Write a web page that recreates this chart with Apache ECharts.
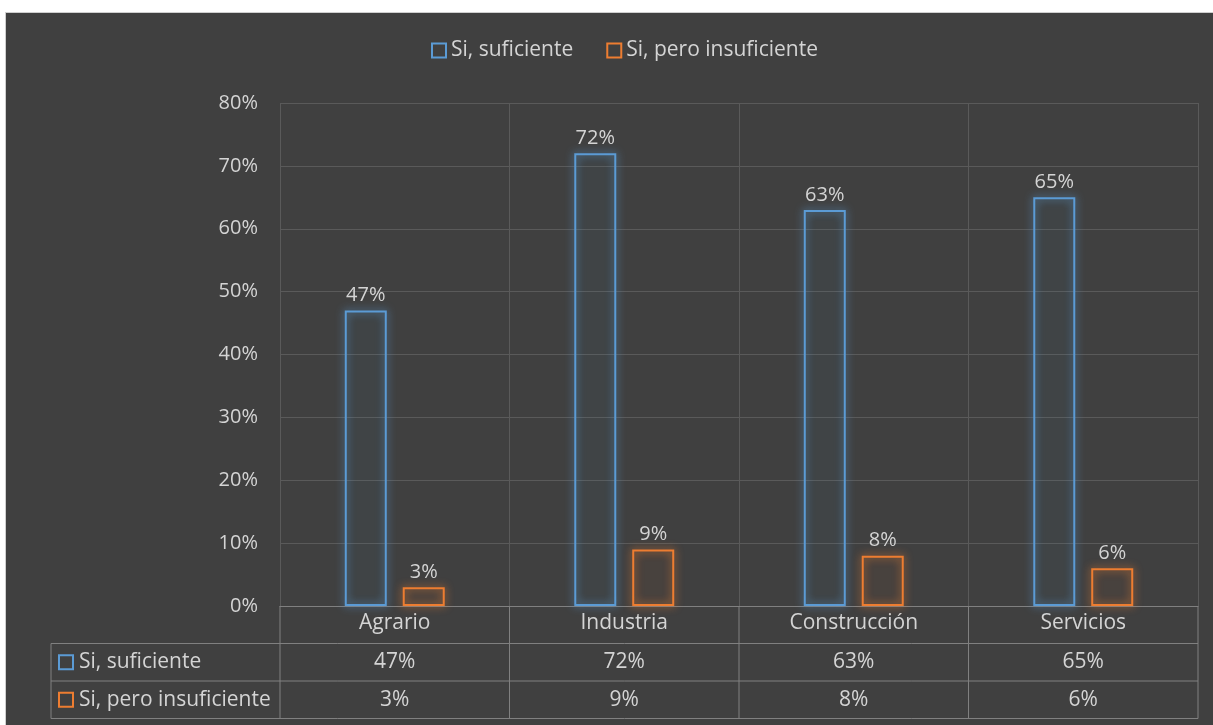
<!DOCTYPE html>
<html>
<head>
<meta charset="utf-8">
<script src="https://cdn.jsdelivr.net/npm/echarts@6/dist/echarts.min.js"></script>
<style>
  html, body { margin: 0; padding: 0; background: #ffffff; }
  #bg {
    position: absolute; left: 5px; top: 12px; width: 1210px; height: 715px;
    background: #404040; border: 1px solid #cfcfcf; box-sizing: border-box;
  }
  #chart { position: absolute; left: 0; top: 0; width: 1213px; height: 725px; }
</style>
</head>
<body>
<div id="bg"></div>
<div id="chart"></div>
<script>
// datos
const categories = ["Agrario", "Industria", "Construcción", "Servicios"];
const seriesNames = ["Si, suficiente", "Si, pero insuficiente"];
const suficiente = [0.47, 0.72, 0.63, 0.65];
const insuficiente = [0.03, 0.09, 0.08, 0.06];
const colors = ["#5B9BD5", "#ED7D31"];
const glow = ["rgba(91,155,213,1)", "rgba(237,125,49,1)"];
const tint = ["rgba(91,155,213,0.025)", "rgba(237,125,49,0.025)"];

const FONT = "'Open Sans', 'Noto Sans', sans-serif";
const TXT = "#d4d4d4";
const TABLE_LINE = "#808080";
const FS = 21;

const pct = (v) => Math.round(v * 100) + "%";

const mkSeries = (name, data, i) => ({
  name: name,
  type: "bar",
  data: data,
  barWidth: 42,
  barGap: "38%",
  animation: false,
  itemStyle: {
    color: tint[i],
    borderColor: colors[i],
    borderWidth: 2,
    shadowBlur: 8,
    shadowColor: glow[i],
  },
  label: {
    show: true,
    position: "top",
    distance: 5,
    color: TXT,
    fontSize: FS - 1,
    fontFamily: FONT,
    formatter: (p) => pct(p.value),
  },
});

const chart = echarts.init(document.getElementById("chart"), null, { renderer: "canvas" });

const option = {
  backgroundColor: "transparent",
  textStyle: { fontFamily: FONT },
  legend: {
    top: 35,
    left: 426,
    itemWidth: 14,
    itemHeight: 14,
    itemGap: 33,
    textStyle: { color: TXT, fontSize: FS, fontFamily: FONT },
    data: seriesNames.map((n, i) => ({
      name: n,
      icon: "rect",
      itemStyle: { color: "rgba(0,0,0,0)", borderColor: colors[i], borderWidth: 2 },
    })),
  },
  grid: { left: 280, right: 15, top: 103, bottom: 119, containLabel: false },
  xAxis: {
    type: "category",
    data: categories,
    axisLine: { show: true, lineStyle: { color: TABLE_LINE, width: 1 } },
    axisTick: { show: false },
    axisLabel: { color: TXT, fontSize: FS, fontFamily: FONT, margin: 7 },
    splitLine: { show: true, lineStyle: { color: "#5a5a5a", width: 1 } },
  },
  yAxis: {
    type: "value",
    min: 0,
    max: 0.8,
    interval: 0.1,
    axisLine: { show: false },
    axisTick: { show: false },
    axisLabel: { color: TXT, fontSize: FS - 1, fontFamily: FONT, margin: 22, formatter: (v) => pct(v) },
    splitLine: { lineStyle: { color: "#5a5a5a", width: 1 } },
  },
  series: [
    mkSeries(seriesNames[0], suficiente, 0),
    mkSeries(seriesNames[1], insuficiente, 1),
  ],
};

chart.setOption(option);

// tabla de datos debajo del eje
const c0 = chart.convertToPixel({ xAxisIndex: 0 }, 0);
const c1 = chart.convertToPixel({ xAxisIndex: 0 }, 1);
const band = c1 - c0;
const xStart = c0 - band / 2;
const xEnd = xStart + band * categories.length;
const y0 = chart.convertToPixel({ yAxisIndex: 0 }, 0);
const rowH = 37.5;
const labelLeft = 51;

const g = [];
const line = (x1, y1, x2, y2) => g.push({
  type: "line", silent: true,
  shape: { x1: x1, y1: y1, x2: x2, y2: y2 },
  style: { stroke: TABLE_LINE, lineWidth: 1 },
});

// horizontales
line(labelLeft, y0 + rowH, xEnd, y0 + rowH);
line(labelLeft, y0 + rowH * 2, xEnd, y0 + rowH * 2);
line(labelLeft, y0 + rowH * 3, xEnd, y0 + rowH * 3);
// verticales
line(labelLeft, y0 + rowH, labelLeft, y0 + rowH * 3);
for (let i = 0; i <= categories.length; i++) {
  const x = xStart + band * i;
  line(x, y0, x, y0 + rowH * 3);
}

const rows = [suficiente, insuficiente];
rows.forEach((vals, r) => {
  const cy = y0 + rowH * (r + 1) + rowH / 2;
  g.push({
    type: "rect", silent: true,
    shape: { x: labelLeft + 8, y: cy - 7, width: 14, height: 14 },
    style: { fill: "none", stroke: colors[r], lineWidth: 2 },
  });
  g.push({
    type: "text", silent: true,
    x: labelLeft + 28, y: cy,
    style: { text: seriesNames[r], fill: TXT, font: FS + "px " + FONT, verticalAlign: "middle", align: "left" },
  });
  vals.forEach((v, i) => {
    g.push({
      type: "text", silent: true,
      x: xStart + band * i + band / 2, y: cy,
      style: { text: pct(v), fill: TXT, font: FS + "px " + FONT, verticalAlign: "middle", align: "center" },
    });
  });
});

chart.setOption({ graphic: { elements: g } });
</script>
</body>
</html>
